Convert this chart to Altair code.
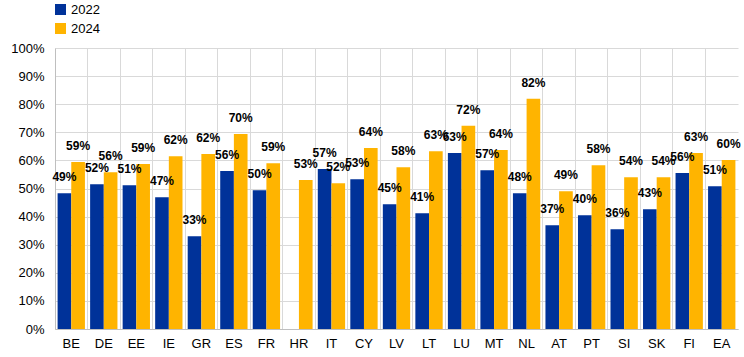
import altair as alt
import pandas as pd

countries = ["BE", "DE", "EE", "IE", "GR", "ES", "FR", "HR", "IT", "CY", "LV",
             "LT", "LU", "MT", "NL", "AT", "PT", "SI", "SK", "FI", "EA"]
years = ["2022", "2024"]
v2022 = [48.3, 51.5, 51.2, 46.9, 33.0, 56.2, 49.4, None, 56.9, 53.3, 44.4,
         41.2, 62.6, 56.5, 48.3, 36.9, 40.5, 35.5, 42.6, 55.5, 50.8]
v2024 = [59.4, 55.8, 58.7, 61.5, 62.3, 69.4, 59.0, 53.0, 51.9, 64.4, 57.6,
         63.3, 72.3, 63.7, 81.9, 49.0, 58.3, 54.0, 54.0, 62.6, 60.1]
lab2022 = [49, 52, 51, 47, 33, 56, 50, None, 57, 53, 45,
           41, 63, 57, 48, 37, 40, 36, 43, 56, 51]
lab2024 = [59, 56, 59, 62, 62, 70, 59, 53, 52, 64, 58,
           63, 72, 64, 82, 49, 58, 54, 54, 63, 60]

rows = []
for c, a, b, la, lb in zip(countries, v2022, v2024, lab2022, lab2024):
    if a is not None:
        rows.append({"country": c, "year": "2022", "value": a, "label": f"{la}%"})
    rows.append({"country": c, "year": "2024", "value": b, "label": f"{lb}%"})
df = pd.DataFrame(rows)

FONT = "Liberation Sans"

x = alt.X("country:N", sort=countries,
          scale=alt.Scale(paddingInner=0, paddingOuter=0),
          axis=alt.Axis(title=None, labelAngle=0, bandPosition=0,
                        grid=True, gridColor="#d9d9d9",
                        ticks=False, domainColor="#bfbfbf", labelFontSize=13,
                        labelColor="#000000", labelPadding=8, labelFont=FONT))
xo = alt.XOffset("year:N", scale=alt.Scale(domain=years, paddingInner=0, paddingOuter=0.19))
y = alt.Y("value:Q", scale=alt.Scale(domain=[0, 100], nice=False),
          axis=alt.Axis(title=None, labelExpr="datum.value + '%'",
                        ticks=False, grid=True, gridColor="#d9d9d9",
                        tickCount=10,
                        domainColor="#bfbfbf", labelFontSize=13, labelOverlap=False,
                        labelColor="#000000", labelPadding=11, labelFont=FONT))

bars = alt.Chart(df).mark_bar().encode(
    x=x, xOffset=xo, y=y,
    color=alt.Color("year:N",
                    scale=alt.Scale(domain=years, range=["#003299", "#FFB400"]),
                    legend=alt.Legend(title=None, orient="none", legendX=-1, legendY=-45,
                                      symbolType="square", symbolSize=121,
                                      symbolStrokeWidth=0, labelFontSize=13,
                                      labelFont=FONT, labelColor="#000000",
                                      rowPadding=5, labelOffset=4)),
)

texts = alt.Chart(df).mark_text(dy=-9, baseline="bottom", fontWeight="bold",
                                fontSize=12, font=FONT, color="#000000").encode(
    x=x, xOffset=xo, y=y, text="label:N",
)

chart = alt.layer(bars, texts).properties(
    width=683, height=281,
    autosize=alt.AutoSizeParams(type="none"),
    padding={"left": 55, "top": 48, "right": 6, "bottom": 28},
    background="white",
).configure_view(stroke=None)

chart.save("out.html", embed_options={"renderer": "svg", "actions": False})
